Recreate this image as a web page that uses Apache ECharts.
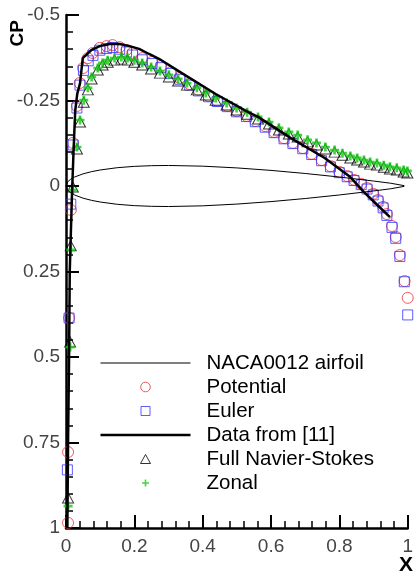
<!DOCTYPE html>
<html><head><meta charset="utf-8">
<script src="https://cdn.jsdelivr.net/npm/echarts@6/dist/echarts.min.js"></script>
<style>html,body{margin:0;padding:0;background:#fff}#c{width:416px;height:581px}</style>
</head><body><div id="c"></div>
<script>
// NACA0012 outline (x, y)
const foilX = [0.99,0.95,0.9,0.8,0.7,0.6,0.5,0.4,0.3,0.25,0.2,0.15,0.1,0.075,0.05,0.025,0.0125,0.005,0,0.005,0.0125,0.025,0.05,0.075,0.1,0.15,0.2,0.25,0.3,0.4,0.5,0.6,0.7,0.8,0.9,0.95,0.99];
const foilY = [-0.001,-0.0081,-0.0145,-0.0262,-0.0366,-0.0456,-0.0529,-0.058,-0.06,-0.0594,-0.0574,-0.0535,-0.0468,-0.042,-0.0356,-0.0262,-0.0189,-0.0122,0,0.0122,0.0189,0.0262,0.0356,0.042,0.0468,0.0535,0.0574,0.0594,0.06,0.058,0.0529,0.0456,0.0366,0.0262,0.0145,0.0081,0.001];

const potentialX = [0.006,0.006,0.009,0.014,0.020,0.032,0.040,0.050,0.064,0.078,0.099,0.119,0.136,0.157,0.177,0.194,0.223,0.252,0.278,0.307,0.333,0.362,0.388,0.417,0.443,0.472,0.499,0.528,0.554,0.583,0.609,0.638,0.664,0.693,0.719,0.748,0.774,0.800,0.823,0.843,0.864,0.881,0.899,0.913,0.928,0.939,0.954,0.965,0.977,0.991,1.0];
const potentialCp = [0.985,0.778,0.386,0.07,-0.126,-0.234,-0.301,-0.345,-0.374,-0.389,-0.404,-0.409,-0.412,-0.406,-0.398,-0.389,-0.374,-0.363,-0.351,-0.333,-0.316,-0.298,-0.281,-0.263,-0.249,-0.234,-0.219,-0.205,-0.190,-0.175,-0.158,-0.140,-0.126,-0.111,-0.094,-0.076,-0.058,-0.041,-0.029,-0.018,-0.006,0.006,0.023,0.041,0.061,0.082,0.117,0.149,0.202,0.278,0.327];

const eulerX = [0.004,0.009,0.014,0.021,0.032,0.041,0.051,0.065,0.079,0.099,0.119,0.137,0.157,0.177,0.195,0.223,0.252,0.278,0.307,0.333,0.362,0.388,0.417,0.443,0.472,0.499,0.528,0.554,0.583,0.609,0.638,0.664,0.693,0.719,0.748,0.774,0.800,0.823,0.843,0.864,0.881,0.899,0.913,0.928,0.939,0.954,0.965,0.977,0.99,1.0];
const eulerCp = [0.83,0.386,0.053,-0.12,-0.228,-0.295,-0.338,-0.366,-0.382,-0.397,-0.402,-0.405,-0.4,-0.392,-0.383,-0.369,-0.358,-0.346,-0.329,-0.312,-0.295,-0.278,-0.261,-0.247,-0.232,-0.217,-0.203,-0.188,-0.172,-0.156,-0.138,-0.124,-0.109,-0.092,-0.074,-0.056,-0.039,-0.027,-0.016,-0.004,0.009,0.026,0.044,0.064,0.086,0.121,0.153,0.206,0.28,0.377];

const dataX = [0.004,0.006,0.009,0.011,0.017,0.022,0.027,0.033,0.041,0.049,0.075,0.099,0.128,0.157,0.186,0.214,0.243,0.272,0.339,0.438,0.533,0.562,0.658,0.757,0.832,0.872,0.896,0.948];
const dataCp = [1.0,0.75,0.5,0.25,0.04,-0.1,-0.22,-0.27,-0.30,-0.374,-0.398,-0.409,-0.415,-0.415,-0.409,-0.401,-0.386,-0.372,-0.33,-0.269,-0.216,-0.202,-0.14,-0.082,-0.026,0.018,0.041,0.091];

const nsX = [0.006,0.012,0.014,0.020,0.032,0.041,0.052,0.064,0.075,0.093,0.107,0.122,0.142,0.162,0.180,0.200,0.223,0.249,0.275,0.301,0.328,0.354,0.383,0.409,0.438,0.470,0.499,0.530,0.562,0.594,0.623,0.652,0.678,0.707,0.733,0.759,0.786,0.809,0.832,0.852,0.872,0.890,0.910,0.930,0.948,0.968,0.988,0.999];
const nsCp = [0.912,0.456,0.175,0.003,-0.108,-0.187,-0.245,-0.281,-0.313,-0.339,-0.354,-0.362,-0.368,-0.371,-0.368,-0.362,-0.354,-0.342,-0.330,-0.319,-0.307,-0.295,-0.281,-0.266,-0.251,-0.237,-0.222,-0.210,-0.196,-0.181,-0.164,-0.152,-0.143,-0.129,-0.120,-0.108,-0.099,-0.090,-0.082,-0.076,-0.070,-0.064,-0.061,-0.055,-0.050,-0.047,-0.041,-0.038];

const zonalX = [0.006,0.012,0.014,0.020,0.032,0.041,0.052,0.064,0.075,0.093,0.107,0.122,0.142,0.162,0.180,0.200,0.223,0.249,0.275,0.301,0.328,0.354,0.383,0.409,0.438,0.470,0.499,0.530,0.562,0.594,0.623,0.652,0.678,0.707,0.733,0.759,0.786,0.809,0.832,0.852,0.872,0.890,0.910,0.930,0.948,0.968,0.988,0.999];
const zonalCp = [0.936,0.471,0.187,0.012,-0.114,-0.193,-0.251,-0.287,-0.319,-0.345,-0.360,-0.368,-0.374,-0.377,-0.374,-0.368,-0.360,-0.348,-0.336,-0.325,-0.313,-0.301,-0.287,-0.272,-0.257,-0.243,-0.228,-0.216,-0.202,-0.187,-0.170,-0.158,-0.149,-0.135,-0.126,-0.114,-0.105,-0.096,-0.088,-0.082,-0.076,-0.070,-0.067,-0.061,-0.056,-0.053,-0.047,-0.044];

const legendNames = ['NACA0012 airfoil','Potential','Euler','Data from [11]','Full Navier-Stokes','Zonal'];

const pairs = (xs, ys) => xs.map((x, i) => [x, ys[i]]);
const FONT = '"Liberation Sans", Arial, sans-serif';
const chart = echarts.init(document.getElementById('c'), null, {renderer: 'canvas'});
const plus = 'path://M3.5,0H6.5V3.5H10V6.5H6.5V10H3.5V6.5H0V3.5H3.5Z';
// legend icons padded inside a 90x10 box so they are not stretched
const iconCircle = 'path://M0,0M90,10M45,0.2A4.8,4.8 0 1 1 44.99,0.2Z';
const iconSquare = 'path://M0,0M90,10M40.5,0.5H49.5V9.5H40.5Z';
const iconTri = 'path://M0,0M90,10M45,0.5L50,9.5H40Z';
const iconPlus = 'path://M0,0M90,10M44.2,1.5H45.8V4.2H48.5V5.8H45.8V8.5H44.2V5.8H41.5V4.2H44.2Z';
const iconThin = 'path://M0,0M90,10M0,4.5H90V5.6H0Z';
const iconThick = 'path://M0,0M90,10M0,3.8H90V6.2H0Z';

chart.setOption({
  animation: false,
  backgroundColor: '#fff',
  grid: {left: 66, right: 5, top: 15, bottom: 53, containLabel: false},
  xAxis: {
    type: 'value', min: 0, max: 1, interval: 0.2,
    axisLine: {show: true, onZero: false, lineStyle: {color: '#000', width: 2.5}},
    axisTick: {show: true, inside: true, length: 13, lineStyle: {color: '#000', width: 2}},
    minorTick: {show: true, splitNumber: 5, length: 7, lineStyle: {color: '#000', width: 1.5}},
    axisLabel: {margin: 9, color: '#444', fontSize: 19, fontFamily: FONT},
    splitLine: {show: false}
  },
  yAxis: {
    type: 'value', min: -0.5, max: 1, interval: 0.25, inverse: true,
    axisLine: {show: true, onZero: false, lineStyle: {color: '#000', width: 2.5}},
    axisTick: {show: true, inside: true, length: 13, lineStyle: {color: '#000', width: 2}},
    minorTick: {show: true, splitNumber: 5, length: 7, lineStyle: {color: '#000', width: 1.5}},
    axisLabel: {margin: 6, color: '#444', fontSize: 19, fontFamily: FONT},
    splitLine: {show: false}
  },
  legend: {
    orient: 'vertical', left: 100, top: 352.5, padding: 0,
    itemWidth: 90, itemHeight: 10, itemGap: 3,
    symbolKeepAspect: true,
    itemStyle: {borderWidth: 1},
    textStyle: {fontSize: 20.5, lineHeight: 19, color: '#000', fontFamily: FONT, padding: [0, 0, 0, 11]},
    data: [
      {name: legendNames[0], icon: iconThin, itemStyle: {borderWidth: 0, color: '#000'}},
      {name: legendNames[1], icon: iconCircle, itemStyle: {borderWidth: 1, color: 'rgba(0,0,0,0)', borderColor: '#e8323a'}},
      {name: legendNames[2], icon: iconSquare, itemStyle: {borderWidth: 1, color: 'rgba(0,0,0,0)', borderColor: '#3333ff'}},
      {name: legendNames[3], icon: iconThick, itemStyle: {borderWidth: 0, color: '#000'}},
      {name: legendNames[4], icon: iconTri, itemStyle: {borderWidth: 1, color: 'rgba(0,0,0,0)', borderColor: '#000'}},
      {name: legendNames[5], icon: iconPlus, itemStyle: {borderWidth: 0, color: '#11cc11'}}
    ]
  },
  graphic: [
    {type: 'text', left: 8, top: 20, rotation: Math.PI / 2, originX: 0, originY: 0,
     style: {text: 'CP', font: 'bold 19px ' + FONT, fill: '#000'}},
    {type: 'text', left: 399, top: 555,
     style: {text: 'X', font: 'bold 21px ' + FONT, fill: '#000'}}
  ],
  series: [
    {name: legendNames[0], type: 'line', data: pairs(foilX, foilY), symbol: 'none', showSymbol: false,
     lineStyle: {color: '#000', width: 1}, itemStyle: {color: '#000'}},
    {name: legendNames[1], type: 'scatter', data: pairs(potentialX, potentialCp), symbol: 'circle', symbolSize: 11,
     itemStyle: {color: 'rgba(0,0,0,0)', borderColor: '#e8323a', borderWidth: 1}},
    {name: legendNames[2], type: 'scatter', data: pairs(eulerX, eulerCp), symbol: 'rect', symbolSize: 10,
     itemStyle: {color: 'rgba(0,0,0,0)', borderColor: '#3333ff', borderWidth: 1}},
    {name: legendNames[3], type: 'line', data: pairs(dataX, dataCp), symbol: 'none', showSymbol: false,
     lineStyle: {color: '#000', width: 2.5}, itemStyle: {color: '#000'}},
    {name: legendNames[4], type: 'scatter', data: pairs(nsX, nsCp), symbol: 'triangle', symbolSize: [11, 10],
     itemStyle: {color: 'rgba(0,0,0,0)', borderColor: '#000', borderWidth: 1}},
    {name: legendNames[5], type: 'scatter', data: pairs(zonalX, zonalCp), symbol: plus, symbolSize: 9,
     itemStyle: {color: '#11cc11'}}
  ]
});
</script></body></html>
